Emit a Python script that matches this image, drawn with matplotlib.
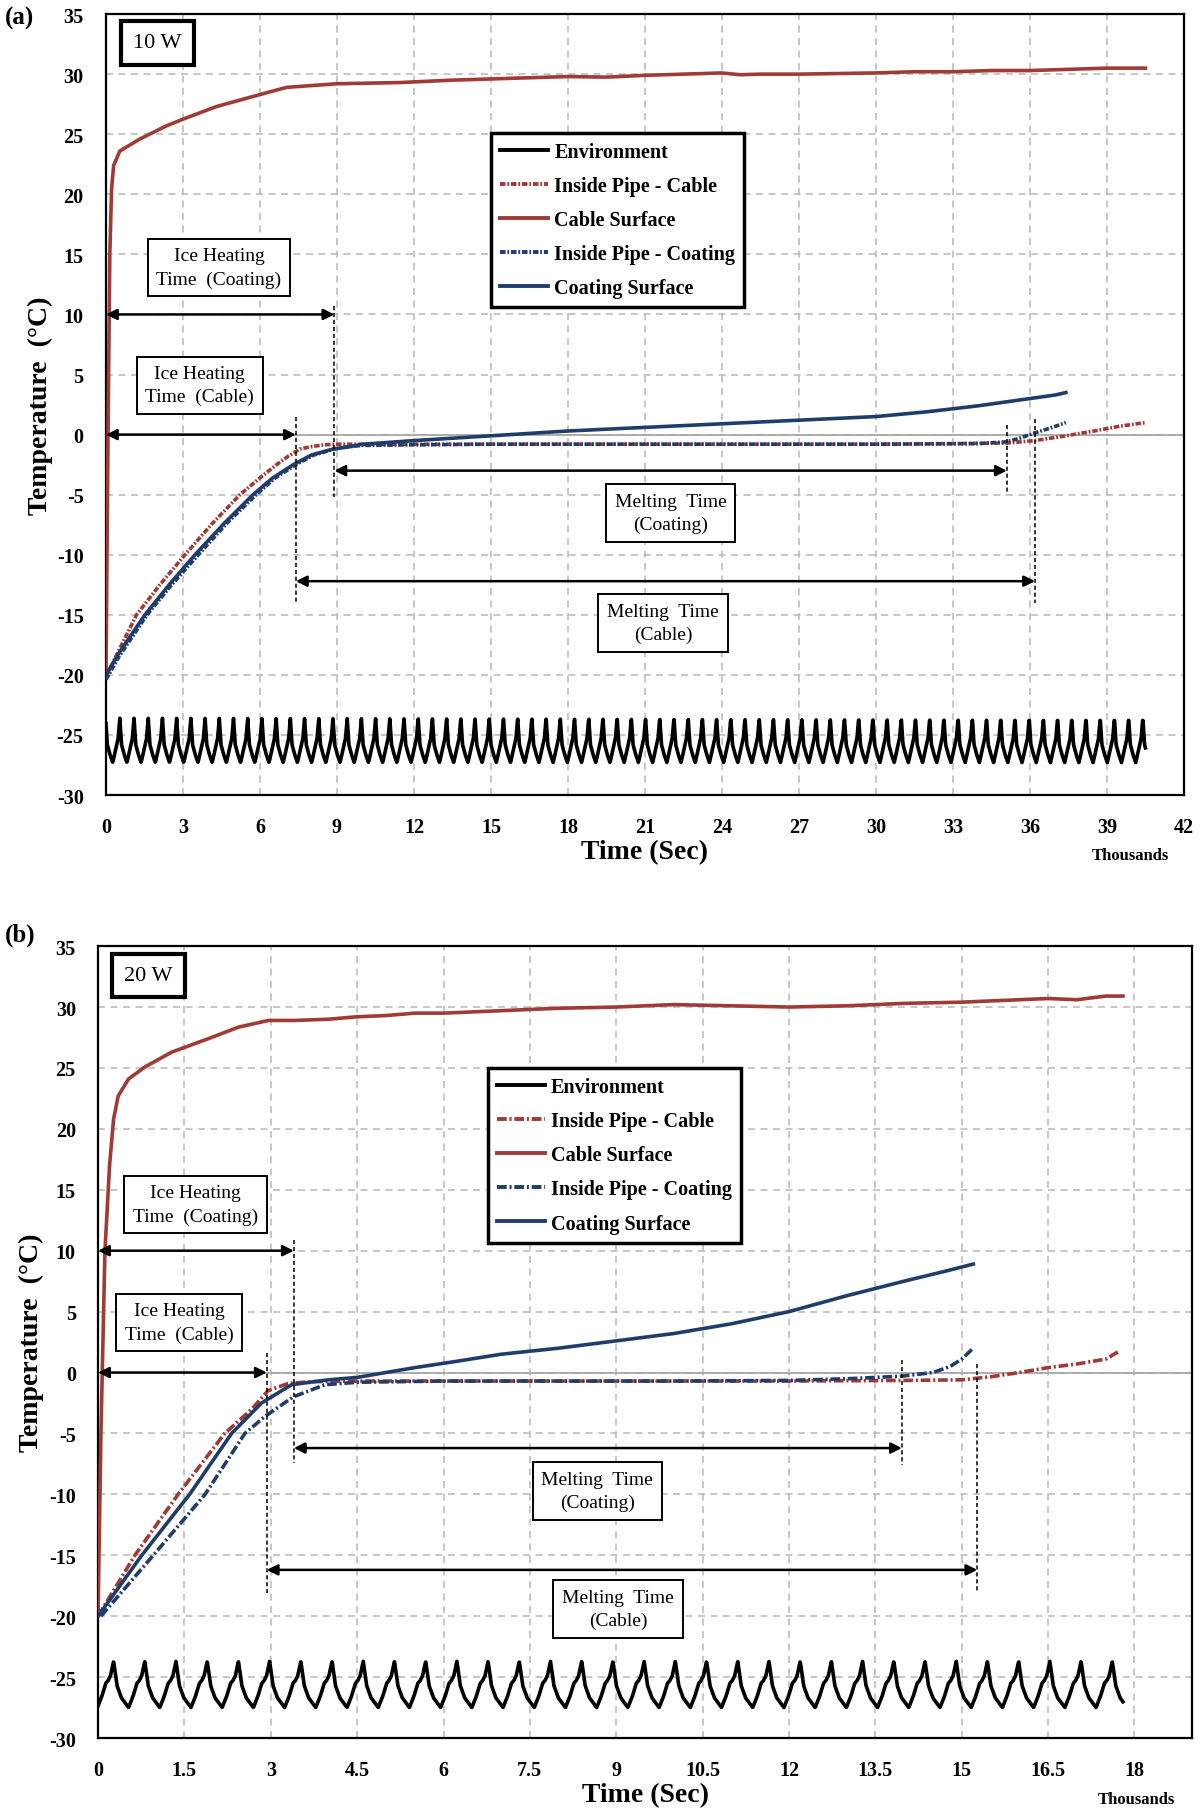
import numpy as np
import matplotlib
matplotlib.use("Agg")
import matplotlib.pyplot as plt
from matplotlib.lines import Line2D

plt.rcParams['font.family'] = ['Liberation Serif', 'DejaVu Serif']
plt.rcParams['lines.scale_dashes'] = False
plt.rcParams['axes.unicode_minus'] = False

RED = '#a03a35'
BLUE = '#1f3d6b'

# ---------------- panel (a): 10 W, time in thousands of seconds ----------------
a_cable_surf_t = [0, 0.08, 0.15, 0.22, 0.3, 0.54, 1.32, 2.36, 3.0, 4.3, 6.0, 7.04, 9.0,
                  11.45, 13.5, 15, 16.5, 18, 19.5, 21, 22.5, 24, 24.7, 25.5, 27, 28.5,
                  30, 31.5, 33, 34.5, 36, 37.5, 39, 40.5]
a_cable_surf_v = [-20, 0, 15, 20.5, 22.4, 23.6, 24.6, 25.7, 26.25, 27.3, 28.3, 28.9, 29.2,
                  29.3, 29.5, 29.6, 29.7, 29.8, 29.75, 29.9, 30.0, 30.1, 29.95, 30.0, 30.0, 30.05,
                  30.1, 30.2, 30.2, 30.3, 30.3, 30.4, 30.5, 30.5]

a_pipe_cable_t = [0, 0.4, 1.19, 2.1, 3.08, 4.1, 5.22, 6.0, 6.65, 7.1, 7.56, 8.0, 8.5, 9, 10,
                  12, 15, 18, 21, 24, 27, 30, 33, 35.1, 36.2, 37.4, 38.5, 39.5, 40.5]
a_pipe_cable_v = [-20.2, -18.4, -15, -12.5, -10, -7.5, -5, -3.6, -2.5, -1.8, -1.2, -1.0, -0.85,
                  -0.8, -0.8, -0.8, -0.8, -0.8, -0.8, -0.8, -0.8, -0.8, -0.75, -0.7, -0.5,
                  -0.1, 0.3, 0.7, 1.0]

a_pipe_coat_t = [0, 0.5, 1.6, 2.6, 3.6, 4.7, 5.85, 6.6, 7.4, 8.1, 8.9, 9.5, 10, 12, 15, 18,
                 21, 24, 27, 30, 34, 35.1, 35.6, 36.2, 36.8, 37.4]
a_pipe_coat_v = [-20.4, -18.5, -15, -12.4, -10, -7.4, -5, -3.6, -2.5, -1.7, -1.2, -1.0, -0.9,
                 -0.85, -0.8, -0.8, -0.8, -0.8, -0.8, -0.8, -0.75, -0.6, -0.3, 0.15, 0.55, 1.0]

a_coat_surf_t = [0, 0.5, 1.52, 2.5, 3.47, 4.6, 5.73, 6.5, 7.3, 8.0, 8.85, 9.5, 10, 12, 15, 18,
                 21, 24, 27, 30, 32, 34, 35, 36, 37, 37.4]
a_coat_surf_v = [-20, -18.2, -15, -12.4, -10, -7.4, -5, -3.6, -2.5, -1.7, -1.2, -1.0, -0.8,
                 -0.5, -0.1, 0.3, 0.6, 0.9, 1.2, 1.5, 1.9, 2.4, 2.7, 3.0, 3.3, 3.5]

a_env_phase = [0.0, 0.12, 0.3, 0.5, 0.65, 0.8, 0.88, 1.0]
a_env_shape = [-23.6, -25.8, -26.6, -27.3, -26.5, -25.7, -25.3, -23.6]
a_env_period = 0.5536
a_env_first_peak = 0.54
a_env_end = 40.5

# ---------------- panel (b): 20 W ----------------
b_cable_surf_t = [0, 0.05, 0.12, 0.2, 0.27, 0.35, 0.53, 0.82, 1.28, 1.97, 2.44, 2.96, 3.42,
                  4.0, 4.5, 5, 5.5, 6, 7, 8, 9, 10, 11, 12, 13, 14, 15, 16, 16.5, 17, 17.5, 17.8]
b_cable_surf_v = [-20, -5, 10, 17, 20.8, 22.7, 24.1, 25.1, 26.3, 27.5, 28.35, 28.9, 28.9,
                  29.0, 29.2, 29.3, 29.5, 29.5, 29.7, 29.9, 30.0, 30.2, 30.1, 30.0, 30.1, 30.3,
                  30.4, 30.6, 30.7, 30.6, 30.9, 30.9]

b_pipe_cable_t = [0, 0.64, 1.39, 2.2, 2.67, 2.95, 3.3, 3.7, 4.5, 6, 8, 10, 12, 14, 15, 15.5,
                  16, 16.5, 17, 17.5, 17.75]
b_pipe_cable_v = [-20, -15, -10, -5, -3, -1.5, -0.9, -0.75, -0.7, -0.7, -0.7, -0.7, -0.7,
                  -0.65, -0.6, -0.35, 0.0, 0.4, 0.7, 1.1, 1.8]

b_pipe_coat_t = [0.05, 0.96, 1.86, 2.55, 2.9, 3.39, 3.94, 4.5, 6, 8, 10, 12, 13.06, 13.96,
                 14.5, 14.8, 15.0, 15.2]
b_pipe_coat_v = [-20, -15, -10, -5, -3.6, -2, -1, -0.8, -0.7, -0.7, -0.7, -0.65, -0.5, -0.3,
                 0.0, 0.5, 1.1, 2.0]

b_coat_surf_t = [0, 0.76, 1.59, 2.32, 2.84, 3.36, 4.0, 4.5, 5, 5.5, 6.2, 7, 8, 9, 10, 11, 12,
                 13, 14, 14.7, 15.2]
b_coat_surf_v = [-20, -15, -10, -5, -2.5, -1, -0.6, -0.4, 0.0, 0.4, 0.9, 1.5, 2.0, 2.6, 3.2,
                 4.0, 5.0, 6.3, 7.5, 8.3, 8.9]

b_env_phase = [0.0, 0.11, 0.25, 0.48, 0.62, 0.75, 0.82, 0.9, 1.0]
b_env_shape = [-23.7, -25.7, -26.7, -27.5, -26.6, -25.5, -25.3, -24.9, -23.7]
b_env_period = 0.542
b_env_first_peak = 0.27
b_env_end = 17.8

# annotation positions (thousand s, degC)
a_ice_coat = (0, 8.9, 10.0)
a_ice_cable = (0, 7.4, 0.0)
a_melt_coat = (8.9, 35.1, -3.0)
a_melt_cable = (7.4, 36.2, -12.2)
a_vlines = [(8.9, 10.7, -5.2), (7.4, 1.5, -14.0), (35.1, 0.8, -4.9), (36.2, 1.3, -14.0)]

b_ice_coat = (0, 3.4, 10.0)
b_ice_cable = (0, 2.93, 0.0)
b_melt_coat = (3.4, 13.96, -6.2)
b_melt_cable = (2.93, 15.27, -16.2)
b_vlines = [(3.4, 10.9, -7.4), (2.93, 1.6, -18.1), (13.96, 1.0, -7.6), (15.27, 0.7, -18.1)]


def env_series(phase, shape, period, first_peak, end):
    # repeat the measured cycle over the record
    start = first_peak - np.ceil(first_peak / period) * period
    n = int(np.ceil((end - start) / period))
    t = np.concatenate([start + k * period + np.array(phase[:-1]) * period for k in range(n + 1)])
    v = np.tile(shape[:-1], n + 1)
    tt = np.linspace(0, end, 3000)
    return tt, np.interp(tt, t, v)


def arrow(ax, span):
    x0, x1, y = span
    ax.annotate('', xy=(x1, y), xytext=(x0, y),
                arrowprops=dict(arrowstyle='<|-|>', color='k', lw=1.8,
                                mutation_scale=16, shrinkA=0, shrinkB=0), zorder=6)


def tbox(ax, x, y, s, size=14, lw=1.4, pad=0.45, spacing=1.45):
    ax.text(x, y, s, ha='center', va='center', fontsize=size, linespacing=spacing,
            bbox=dict(boxstyle='square,pad=%g' % pad, fc='white', ec='black', lw=lw), zorder=7)


def panel(ax, xmax, xticks, data, env, dashes, spans, vlines, boxes, power, leg_xy):
    (cs_t, cs_v), (pc_t, pc_v), (pco_t, pco_v), (co_t, co_v) = data
    ax.set_xlim(0, xmax)
    ax.set_ylim(-30, 35)
    ax.set_xticks(xticks)
    ax.set_xticklabels(['%g' % x for x in xticks])
    ax.set_yticks(np.arange(-30, 36, 5))
    ax.grid(True, ls=(0, (5, 4)), color='#b8b8b8', lw=1.1)
    ax.set_axisbelow(True)
    ax.axhline(0, color='#a8a8a8', lw=1.3, zorder=1)
    for sp in ax.spines.values():
        sp.set_linewidth(1.6)
    ax.tick_params(length=0, labelsize=14.5, pad=16)
    for lab in ax.get_xticklabels() + ax.get_yticklabels():
        lab.set_fontweight('bold')

    lw = 2.6
    et, ev = env_series(*env)
    ax.plot(et, ev, color='k', lw=lw, zorder=4)
    ax.plot(pc_t, pc_v, color=RED, lw=lw, ls=(0, dashes), zorder=4)
    ax.plot(cs_t, cs_v, color=RED, lw=lw, zorder=4)
    ax.plot(pco_t, pco_v, color=BLUE, lw=lw, ls=(0, dashes), zorder=4)
    ax.plot(co_t, co_v, color=BLUE, lw=lw, zorder=5)

    for x, y0, y1 in vlines:
        ax.plot([x, x], [y0, y1], color='k', lw=1.1, ls=(0, (3, 2)), zorder=6)
    for sp in spans:
        arrow(ax, sp)
    for x, y, s in boxes:
        tbox(ax, x, y, s)
    tbox(ax, power[0], power[1], power[2], size=16, lw=3, pad=0.55, spacing=1.2)

    handles = [Line2D([], [], color='k', lw=2.8),
               Line2D([], [], color=RED, lw=2.8, ls=(0, dashes)),
               Line2D([], [], color=RED, lw=2.8),
               Line2D([], [], color=BLUE, lw=2.8, ls=(0, dashes)),
               Line2D([], [], color=BLUE, lw=2.8)]
    labels = ['Environment', 'Inside Pipe - Cable', 'Cable Surface',
              'Inside Pipe - Coating', 'Coating Surface']
    leg = ax.legend(handles, labels, loc='upper left', bbox_to_anchor=leg_xy,
                    borderaxespad=0, fancybox=False, framealpha=1, handlelength=2.4,
                    handletextpad=0.3, labelspacing=0.7, borderpad=0.45,
                    prop=dict(weight='bold', size=14.5))
    leg.get_frame().set_edgecolor('black')
    leg.get_frame().set_linewidth(2.5)
    leg.set_zorder(8)

    ax.set_xlabel('Time (Sec)', fontsize=20, fontweight='bold')
    ax.set_ylabel('Temperature  (°C)', fontsize=20, fontweight='bold')
    ax.xaxis.set_label_coords(0.5, -0.056)
    ax.yaxis.set_label_coords(-0.049, 0.5)


fig = plt.figure(figsize=(12, 18.15), dpi=100)

ax_a = fig.add_axes([0.0883, 0.5614, 0.8983, 0.4303])
panel(ax_a, 42, np.arange(0, 43, 3),
      [(a_cable_surf_t, a_cable_surf_v), (a_pipe_cable_t, a_pipe_cable_v),
       (a_pipe_coat_t, a_pipe_coat_v), (a_coat_surf_t, a_coat_surf_v)],
      (a_env_phase, a_env_shape, a_env_period, a_env_first_peak, a_env_end),
      (4, 1.3, 1.3, 1.3),
      [a_ice_coat, a_ice_cable, a_melt_coat, a_melt_cable], a_vlines,
      [(4.4, 13.9, 'Ice Heating\nTime  (Coating)'), (3.65, 4.1, 'Ice Heating\nTime  (Cable)'),
       (22.0, -6.5, 'Melting  Time\n(Coating)'), (21.7, -15.7, 'Melting  Time\n(Cable)')],
      (2.0, 32.6, '10 W'), (0.357, 0.848))

ax_b = fig.add_axes([0.0817, 0.04187, 0.9117, 0.4363])
panel(ax_b, 19, np.arange(0, 18.1, 1.5),
      [(b_cable_surf_t, b_cable_surf_v), (b_pipe_cable_t, b_pipe_cable_v),
       (b_pipe_coat_t, b_pipe_coat_v), (b_coat_surf_t, b_coat_surf_v)],
      (b_env_phase, b_env_shape, b_env_period, b_env_first_peak, b_env_end),
      (7, 2, 1.5, 2),
      [b_ice_coat, b_ice_cable, b_melt_coat, b_melt_cable], b_vlines,
      [(1.69, 13.8, 'Ice Heating\nTime  (Coating)'), (1.41, 4.1, 'Ice Heating\nTime  (Cable)'),
       (8.67, -9.7, 'Melting  Time\n(Coating)'), (9.03, -19.4, 'Melting  Time\n(Cable)')],
      (0.88, 32.6, '20 W'), (0.356, 0.846))

fig.text(1130 / 1200, 1 - 856 / 1815, 'Thousands', ha='center', va='center',
         fontsize=12, fontweight='bold')
fig.text(1136 / 1200, 1 - 1800 / 1815, 'Thousands', ha='center', va='center',
         fontsize=12, fontweight='bold')
fig.text(20 / 1200, 1 - 18 / 1815, '(a)', ha='center', va='center', fontsize=18, fontweight='bold')
fig.text(20 / 1200, 1 - 935 / 1815, '(b)', ha='center', va='center', fontsize=18, fontweight='bold')

fig.savefig('out.png', dpi=100)
